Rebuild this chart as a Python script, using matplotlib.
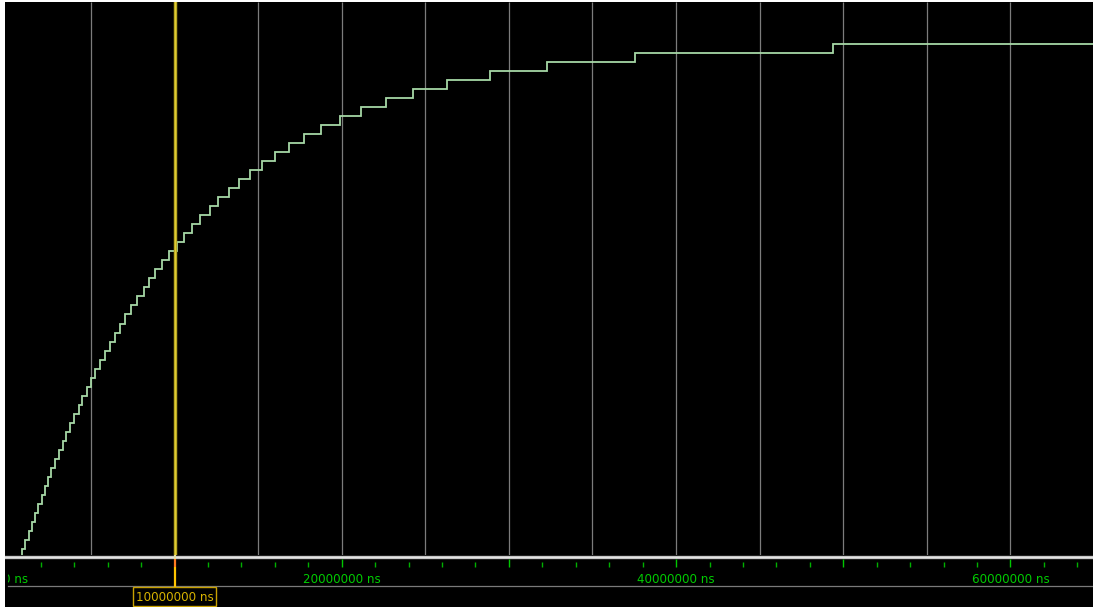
import matplotlib
matplotlib.use("Agg")
import matplotlib.pyplot as plt
from matplotlib.patches import Rectangle
from matplotlib.transforms import Bbox
import numpy as np

# ---------------- data (time in units of 1e6 ns) ----------------
step_times = [0.0, 0.90, 1.08, 1.28, 1.48, 1.66, 1.85, 2.06, 2.24, 2.45, 2.63,
              2.85, 3.09, 3.31, 3.51, 3.75, 3.99, 4.27, 4.47, 4.77, 5.01,
              5.26, 5.53, 5.84, 6.12, 6.44, 6.72, 7.04, 7.42, 7.76, 8.16,
              8.49, 8.85, 9.23, 9.69, 10.13, 10.59, 11.03, 11.53, 12.11, 12.60,
              13.24, 13.88, 14.52, 15.22, 16.03, 16.87, 17.73, 18.74, 19.90, 21.15,
              22.63, 24.26, 26.28, 28.89, 32.30, 37.54, 49.38]
step_values = list(range(0, 58))

grid_times = [5, 10, 15, 20, 25, 30, 35, 40, 45, 50, 55, 60]
minor_tick_times = list(range(2, 66, 2))
major_tick_times = [10, 20, 30, 40, 50, 60]
label_times = [0, 20, 40, 60]
tick_labels = ["0 ns", "20000000 ns", "40000000 ns", "60000000 ns"]
cursor_time = 10
cursor_label = "10000000 ns"

# ---------------- layout helpers (pixel based) ----------------
W, H = 1093, 607
fig = plt.figure(figsize=(W / 100, H / 100), dpi=100, facecolor="white")

PX_PER_UNIT = 16.72
X_ZERO_PX = 7.3
x_lo = (5 - X_ZERO_PX) / PX_PER_UNIT
x_hi = (W - X_ZERO_PX) / PX_PER_UNIT

def fx(px):
    return px / W

def fh(px):
    return px / H

# black background
bg = fig.add_axes([fx(5), 0, fx(W - 5), fh(H - 2)])
bg.set_facecolor("black")
bg.set_xticks([]); bg.set_yticks([])
for s in bg.spines.values():
    s.set_visible(False)

# waveform axes (pixels y 2 .. 555)
ax = fig.add_axes([fx(5), 1 - fh(555), fx(W - 5), fh(553)])
ax.set_facecolor("black")
ax.set_xlim(x_lo, x_hi)
Y_ZERO_PX = 558.3
PX_PER_STEP = 9.03
ax.set_ylim((Y_ZERO_PX - 555) / PX_PER_STEP, (Y_ZERO_PX - 2) / PX_PER_STEP)
ax.set_xticks([]); ax.set_yticks([])
for s in ax.spines.values():
    s.set_visible(False)

ax.vlines(grid_times, 0, 1, transform=ax.get_xaxis_transform(),
          color="#7c7c7c", lw=0.9, zorder=1)

xs = list(step_times) + [x_hi + 1]
ys = list(step_values) + [step_values[-1]]
ax.step(xs, ys, where="post", color="#a6d8a6", lw=1.3, zorder=3,
        solid_joinstyle="miter")

ax.axvline(cursor_time, color="#b0a020", lw=2.5, zorder=4)
ax.axvline(cursor_time, color="#e0cc34", lw=1.0, zorder=5)

# timeline axes (pixels y 555 .. 607), y in pixel units
tl = fig.add_axes([fx(5), 0, fx(W - 5), fh(52)])
tl.set_facecolor("black")
tl.set_xlim(x_lo, x_hi)
tl.set_ylim(607, 555)
tl.set_xticks([]); tl.set_yticks([])
for s in tl.spines.values():
    s.set_visible(False)

tl.axhline(557.3, color="#c6c6c6", lw=2.4, zorder=2)
tl.axhline(556.6, color="#e4e4e4", lw=0.8, zorder=3)
minor_only = [t for t in minor_tick_times if t not in major_tick_times]
tl.vlines(minor_only, 562, 566.5, color="#00b000", lw=1.0)
tl.vlines([t for t in major_tick_times if t != cursor_time], 559.3, 567,
          color="#00c800", lw=1.0)

clip = Bbox.from_extents(8, 0, W, H)
for t, lab in zip(label_times, tick_labels):
    if t == 0:
        txt = tl.text(x_lo + (3 - 5) / PX_PER_UNIT, 579.5, lab, color="#00cc00",
                      ha="left", va="center", fontsize=8.6,
                      family="DejaVu Sans")
        txt.set_clip_box(clip)
        txt.set_clip_on(True)
    else:
        tl.text(t, 579.5, lab, color="#00cc00", ha="center", va="center",
                fontsize=8.6, family="DejaVu Sans")

tl.axhline(586.3, xmin=(8 - 5) / (W - 5), color="#7a7a7a", lw=0.9)

# cursor in the timeline
tl.vlines([cursor_time], 555, 559, color="#e8e0a0", lw=1.6, zorder=5)
tl.vlines([cursor_time], 559, 566.5, color="#ff7a20", lw=1.6, zorder=5)
tl.vlines([cursor_time], 566.5, 586.5, color="#ffc400", lw=1.6, zorder=5)

box_w_units = (216.7 - 134) / PX_PER_UNIT
tl.add_patch(Rectangle((cursor_time - box_w_units / 2, 587), box_w_units, 19.3,
                       facecolor="black", edgecolor="#c8a000", lw=1.0, zorder=6))
tl.text(cursor_time, 597.3, cursor_label, color="#d8b400", ha="center",
        va="center", fontsize=8.6, family="DejaVu Sans", zorder=7)

fig.savefig("out.png", dpi=100, facecolor="white")
